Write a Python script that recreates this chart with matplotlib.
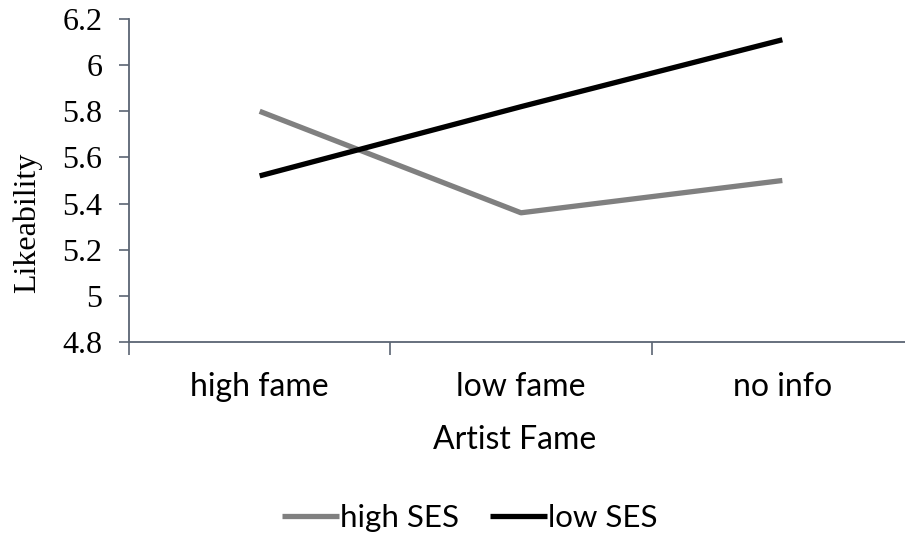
import matplotlib
matplotlib.use("Agg")
import matplotlib.pyplot as plt

categories = ["high fame", "low fame", "no info"]
high_ses = [5.80, 5.36, 5.50]
low_ses = [5.52, 5.82, 6.11]
y_ticks = [4.8, 5.0, 5.2, 5.4, 5.6, 5.8, 6.0, 6.2]
y_tick_labels = ["4.8", "5", "5.2", "5.4", "5.6", "5.8", "6", "6.2"]

W, H = 905, 542
fig = plt.figure(figsize=(W / 100, H / 100), dpi=100)
ax = fig.add_axes([129 / W, 1 - 342 / H, (913 - 129) / W, (342 - 19) / H])

x = list(range(len(categories)))
ax.plot(x, high_ses, color="#808080", lw=3.8, solid_capstyle="butt", label="high SES")
ax.plot(x, low_ses, color="#000000", lw=3.8, solid_capstyle="butt", label="low SES")

axis_col = "#5b6573"
ax.set_xlim(-0.5, len(categories) - 0.5)
ax.set_ylim(4.8, 6.2)
for s in ["top", "right"]:
    ax.spines[s].set_visible(False)
for s in ["left", "bottom"]:
    ax.spines[s].set_color(axis_col)
    ax.spines[s].set_linewidth(1.3)

ax.set_yticks(y_ticks)
ax.set_yticklabels(y_tick_labels, fontfamily="Liberation Serif", fontsize=23)
ax.tick_params(axis="y", direction="out", length=7, width=1.2, color=axis_col, pad=12)

ax.set_xticks([i - 0.5 for i in x])
ax.set_xticklabels([])
ax.tick_params(axis="x", direction="out", length=9, width=1.2, color=axis_col)
for i, c in enumerate(categories):
    ax.text(i, -0.14, c, transform=ax.get_xaxis_transform(), ha="center", va="center",
            fontfamily="Lato", fontsize=23)

fig.text(515 / W, 1 - 440 / H, "Artist Fame", ha="center", va="center",
         fontfamily="Lato", fontsize=23)
fig.text(27 / W, 1 - 223 / H, "Likeability", ha="center", va="center", rotation=90,
         fontfamily="Liberation Serif", fontsize=23)

fig.legend(loc="center", bbox_to_anchor=(470 / W, 1 - 518 / H), ncol=2, frameon=False,
           prop={"family": "Lato", "size": 22.5}, handlelength=1.8, handletextpad=0.05,
           columnspacing=1.0)

fig.savefig("out.png", dpi=100)
